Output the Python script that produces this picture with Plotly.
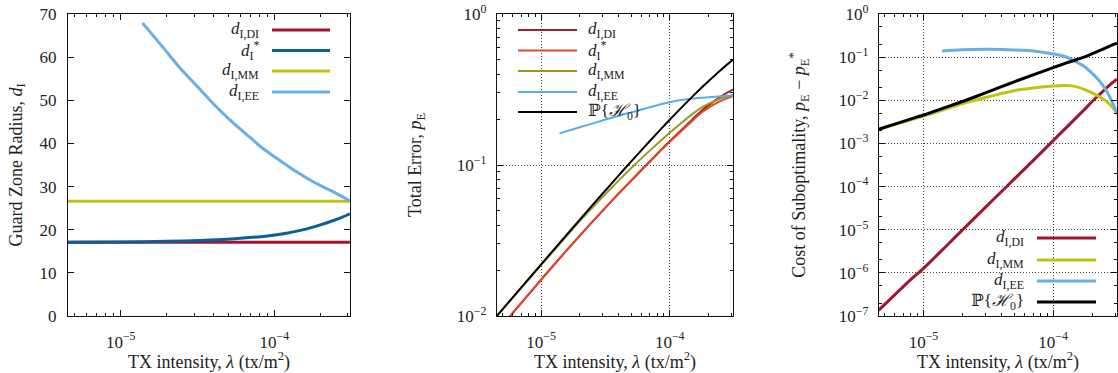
import plotly.graph_objects as go
from plotly.subplots import make_subplots

W, H = 1118, 373

# ---------------- data ----------------
# Panel 1: guard zone radius
lam_p1_const = [4.5e-6, 3.1e-4]
d_di = [17.1, 17.1]
d_mm = [26.6, 26.6]
lam_p1_star = [4.5e-6, 1e-5, 2e-5, 3.3e-5, 5.5e-5, 9e-5, 1.2e-4, 1.5e-4, 1.9e-4, 2.45e-4, 2.8e-4, 3.1e-4]
d_star = [17.1, 17.15, 17.3, 17.5, 17.9, 18.55, 19.2, 19.9, 20.9, 22.2, 23.0, 23.7]
lam_p1_ee = [1.387e-5, 1.89e-5, 2.43e-5, 3.13e-5, 4.01e-5, 5.15e-5, 6.63e-5, 8.51e-5,
             1.09e-4, 1.41e-4, 1.81e-4, 2.32e-4, 3.1e-4]
d_ee = [67.9, 62.2, 57.5, 53.3, 49.2, 45.4, 42.0, 38.7, 36.0, 33.3, 31.0, 29.1, 26.7]

# Panels 2 and 3: common intensity grid
lam = [4.5e-6, 6e-6, 8e-6, 1e-5, 1.5e-5, 2e-5, 3e-5, 4e-5, 5e-5, 7e-5, 1e-4,
       1.25e-4, 1.5e-4, 1.75e-4, 2e-4, 2.25e-4, 2.5e-4, 2.75e-4, 3e-4, 3.1e-4]
pe_h0 = [0.00995, 0.01325, 0.01762, 0.02198, 0.0328, 0.0435, 0.0645, 0.0851, 0.1052, 0.1441,
         0.1993, 0.2426, 0.2836, 0.3222, 0.3589, 0.3936, 0.4264, 0.4574, 0.4867, 0.4985]
pe_star = [0.00783, 0.01045, 0.0139, 0.0174, 0.0259, 0.0341, 0.0497, 0.0645, 0.0785, 0.1052,
           0.1423, 0.170, 0.1966, 0.221, 0.239, 0.2536, 0.266, 0.2754, 0.283, 0.2856]
pe_di = [0.00783, 0.01045, 0.0139, 0.0174, 0.0259, 0.0341, 0.0497, 0.0646, 0.0787, 0.1056,
         0.1435, 0.1723, 0.2005, 0.2272, 0.2484, 0.2668, 0.2838, 0.2986, 0.3115, 0.3170]
pe_mm = [0.00993, 0.0132, 0.01745, 0.0217, 0.0322, 0.0425, 0.0613, 0.0788, 0.0952, 0.1245,
         0.1637, 0.192, 0.2173, 0.2387, 0.2538, 0.2657, 0.2761, 0.2832, 0.2888, 0.2905]
lam_ee = [1.39e-5, 1.5e-5, 2e-5, 3e-5, 4e-5, 5e-5, 7e-5, 1e-4, 1.25e-4, 1.5e-4, 1.75e-4,
          2e-4, 2.25e-4, 2.5e-4, 2.75e-4, 3e-4, 3.1e-4]
pe_ee = [0.162, 0.165, 0.178, 0.197, 0.212, 0.223, 0.241, 0.260, 0.270, 0.275, 0.279,
         0.281, 0.283, 0.285, 0.287, 0.289, 0.290]

cost_h0 = [2.12e-3, 2.80e-3, 3.70e-3, 4.56e-3, 6.95e-3, 9.37e-3, 0.0148, 0.02065, 0.0267, 0.0389,
           0.057, 0.0725, 0.087, 0.101, 0.120, 0.140, 0.1605, 0.182, 0.2036, 0.212]
cost_di = [1.35e-7, 3.1e-7, 7.1e-7, 1.27e-6, 4.2e-6, 9.9e-6, 3.3e-5, 7.7e-5, 1.49e-4, 4.0e-4,
           1.16e-3, 2.27e-3, 3.9e-3, 6.2e-3, 9.4e-3, 1.32e-2, 1.78e-2, 2.32e-2, 2.85e-2, 3.1e-2]
cost_mm = [2.10e-3, 2.75e-3, 3.55e-3, 4.3e-3, 6.3e-3, 8.4e-3, 1.156e-2, 1.43e-2, 1.67e-2, 1.93e-2,
           2.14e-2, 2.19e-2, 2.07e-2, 1.77e-2, 1.48e-2, 1.22e-2, 1.01e-2, 7.9e-3, 5.8e-3, 5.0e-3]
cost_ee = [0.139, 0.141, 0.148, 0.152, 0.151, 0.147, 0.138, 0.118, 0.102, 0.078, 0.060,
           0.042, 0.029, 0.019, 0.0115, 0.0064, 0.0048]

lab_di = "<i>d</i><sub>I,DI</sub>"
lab_star = "<i>d</i><sub>I</sub><sup>*</sup>"
lab_mm = "<i>d</i><sub>I,MM</sub>"
lab_ee = "<i>d</i><sub>I,EE</sub>"
lab_h0 = "ℙ{<i>ℋ</i><sub>0</sub>}"

# ---------------- styles ----------------
C_DI = "#a2142f"
C_STAR1 = "#0b5f97"
C_MM = "#bdc415"
C_EE = "#6aaee6"
C2_DI = "#9e1f32"
C2_STAR = "#e04a2a"
C2_MM = "#9c9a1c"
C2_EE = "#5aaee8"
FONT = "Liberation Serif, DejaVu Serif, serif"
TXT = "#222222"

fig = make_subplots(rows=1, cols=3)

def add(x, y, color, width, col):
    fig.add_trace(go.Scatter(x=x, y=y, mode="lines",
                             line=dict(color=color, width=width, shape="spline", smoothing=0.7),
                             showlegend=False, hoverinfo="skip"), row=1, col=col)

# panel 1
add(lam_p1_const, d_di, C_DI, 3, 1)
add(lam_p1_star, d_star, C_STAR1, 3, 1)
add(lam_p1_const, d_mm, C_MM, 3, 1)
add(lam_p1_ee, d_ee, C_EE, 3, 1)
# panel 2
add(lam, pe_di, C2_DI, 2, 2)
add(lam, pe_star, C2_STAR, 2, 2)
add(lam, pe_mm, C2_MM, 2, 2)
add(lam_ee, pe_ee, C2_EE, 2, 2)
add(lam, pe_h0, "black", 2, 2)
# panel 3
add(lam, cost_di, C_DI, 3, 3)
add(lam, cost_mm, C_MM, 3, 3)
add(lam_ee, cost_ee, C_EE, 3, 3)
add(lam, cost_h0, "black", 3, 3)

def px(x):
    return x / W

def py(y):
    return 1 - y / H

ydom = [py(316), py(14)]
xdoms = [[px(68), px(350)], [px(497), px(733)], [px(879), px(1117)]]
xrange_log = [-5.343, -3.508]

decades_x = [1e-6, 1e-5, 1e-4]
minor_x = [m * d for d in decades_x for m in range(2, 10)]

GRID = dict(gridcolor="#444444", griddash="1px,2px", gridwidth=1)
common_axis = dict(showline=True, mirror="allticks", linecolor="#111111", linewidth=1.3,
                   ticks="inside", tickcolor="#111111", ticklen=6, zeroline=False,
                   automargin=False,
                   tickfont=dict(family=FONT, size=17, color=TXT))
xtitle = "TX intensity, <i>λ</i> (tx/m<sup>2</sup>)"
TITLE_FONT = dict(family=FONT, size=18, color=TXT)

for i, dom in enumerate(xdoms, start=1):
    name = "xaxis" if i == 1 else f"xaxis{i}"
    fig.layout[name].update(
        domain=dom, type="log", range=xrange_log,
        tickmode="array", tickvals=[1e-5, 1e-4],
        ticktext=["10<sup>−5</sup>", "10<sup>−4</sup>"],
        minor=dict(tickmode="array", tickvals=minor_x, ticks="inside", ticklen=3,
                   tickcolor="#111111", showgrid=False),
        showgrid=(i != 1), ticklabelstandoff=10,
        title=dict(text=xtitle, font=TITLE_FONT, standoff=9),
        **GRID, **common_axis)

fig.layout.yaxis.update(domain=ydom, range=[0, 70], tickmode="array",
                        tickvals=list(range(0, 71, 10)), showgrid=False, ticklabelstandoff=7,
                        title=dict(text="Guard Zone Radius, <i>d</i><sub>I</sub>",
                                   font=TITLE_FONT, standoff=12),
                        **common_axis)

minor_y2 = [m * d for d in [1e-2, 1e-1] for m in range(2, 10)]
fig.layout.yaxis2.update(domain=ydom, type="log", range=[-2, 0], tickmode="array",
                         tickvals=[1e-2, 1e-1, 1],
                         ticktext=["10<sup>−2</sup>", "10<sup>−1</sup>", "10<sup>0</sup>"],
                         minor=dict(tickmode="array", tickvals=minor_y2, ticks="inside",
                                    ticklen=3, tickcolor="#111111", showgrid=False),
                         showgrid=True, ticklabelstandoff=6,
                         title=dict(text="Total Error, <i>p</i><sub>E</sub>",
                                    font=TITLE_FONT, standoff=30),
                         **GRID, **common_axis)

dec3 = [10.0 ** k for k in range(-7, 1)]
minor_y3 = [m * d for d in dec3[:-1] for m in (2, 5)]
fig.layout.yaxis3.update(domain=ydom, type="log", range=[-7, 0], tickmode="array",
                         tickvals=dec3,
                         ticktext=[f"10<sup>{'−' if k < 0 else ''}{abs(k)}</sup>" for k in range(-7, 1)],
                         minor=dict(tickmode="array", tickvals=minor_y3, ticks="inside",
                                    ticklen=3, tickcolor="#111111", showgrid=False),
                         showgrid=True, ticklabelstandoff=6,
                         title=dict(text="Cost of Suboptimality, <i>p</i><sub>E</sub> − <i>p</i><sub>E</sub><sup>*</sup>",
                                    font=TITLE_FONT, standoff=28),
                         **GRID, **common_axis)

shapes = []
annotations = []

# white legend backgrounds hiding the grid
shapes.append(dict(type="rect", xref="paper", yref="paper", x0=px(498), x1=px(660),
                   y0=py(123), y1=py(15), fillcolor="white", line=dict(width=0), layer="between"))
shapes.append(dict(type="rect", xref="paper", yref="paper", x0=px(953), x1=px(1116),
                   y0=py(315), y1=py(227), fillcolor="white", line=dict(width=0), layer="between"))

def legend_entry(text, color, width, y, lx0, lx1, tx, anchor):
    shapes.append(dict(type="line", xref="paper", yref="paper", x0=px(lx0), x1=px(lx1),
                       y0=py(y), y1=py(y), line=dict(color=color, width=width), layer="above"))
    annotations.append(dict(text=text, xref="paper", yref="paper", x=px(tx), y=py(y),
                            xanchor=anchor, yanchor="middle", showarrow=False,
                            font=dict(family=FONT, size=17, color=TXT)))

# panel 1 legend (text left, sample right)
for (t, c), yy in zip([(lab_di, C_DI), (lab_star, C_STAR1), (lab_mm, C_MM), (lab_ee, C_EE)],
                      [30, 50.5, 71, 92]):
    legend_entry(t, c, 3, yy, 272, 330, 261, "right")

# panel 2 legend (sample left, text right)
for (t, c), yy in zip([(lab_di, C2_DI), (lab_star, C2_STAR), (lab_mm, C2_MM), (lab_ee, C2_EE),
                       (lab_h0, "black")], [30, 50.5, 71, 92, 112]):
    legend_entry(t, c, 2, yy, 518, 577, 586, "left")

# panel 3 legend
for (t, c), yy in zip([(lab_di, C_DI), (lab_mm, C_MM), (lab_ee, C_EE), (lab_h0, "black")],
                      [238, 260, 281, 302]):
    legend_entry(t, c, 3, yy, 1037, 1096, 1026, "right")

fig.update_layout(width=W, height=H, margin=dict(l=0, r=0, t=0, b=0, autoexpand=False),
                  paper_bgcolor="white", plot_bgcolor="white",
                  shapes=shapes, annotations=annotations,
                  font=dict(family=FONT, size=17, color=TXT))

fig.write_html("out.html")
